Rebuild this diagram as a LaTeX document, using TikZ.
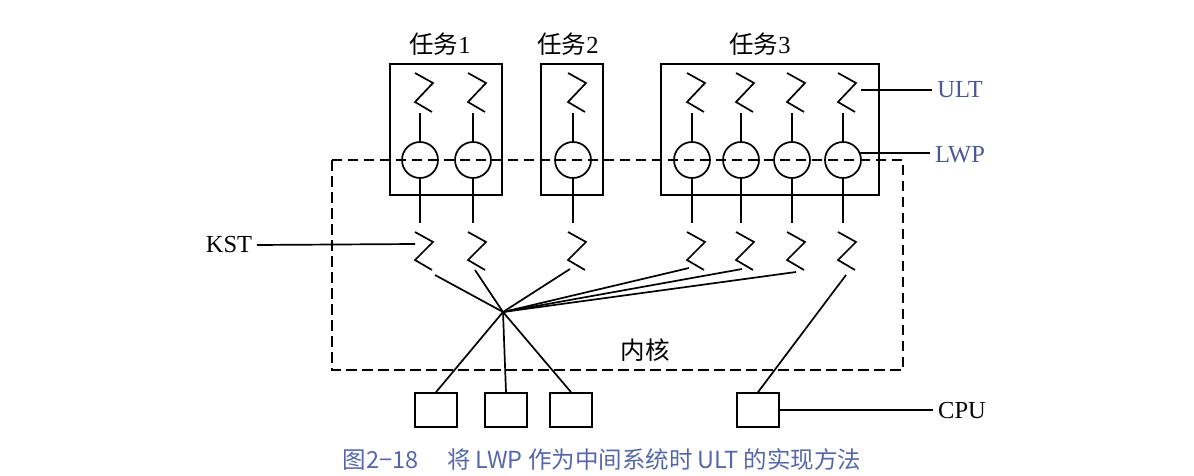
\documentclass[tikz,border=0pt]{standalone}
\usepackage{fontspec}
\setmainfont{Liberation Serif}
\newfontfamily\cjk{Noto Sans CJK SC}
\usepackage{tikz}

\definecolor{labelblue}{HTML}{4A5896}
\definecolor{captionblue}{HTML}{5567A8}

\begin{document}
\begin{tikzpicture}[x=1pt, y=-1pt, line width=1.7pt,
    lwp/.style={circle, draw, minimum size=36pt, inner sep=0pt},
    taskbox/.style={rectangle, draw, inner sep=0pt},
    cpubox/.style={rectangle, draw, minimum width=42pt, minimum height=34pt, inner sep=0pt},
    tag/.style={font=\fontsize{24.5}{28}\selectfont, inner sep=4pt}]
    \useasboundingbox (0,0) rectangle (1194,476);

    % Tasks
    \node[taskbox, minimum width=112pt, minimum height=131pt] (t1) at (446,129.5) {};
    \node[taskbox, minimum width=62pt, minimum height=131pt] (t2) at (572,129.5) {};
    \node[taskbox, minimum width=218pt, minimum height=131pt] (t3) at (770,129.5) {};
    \node[tag] (t1name) at (440,44) {{\cjk 任务}1};
    \node[tag] (t2name) at (568,44) {{\cjk 任务}2};
    \node[tag] (t3name) at (760,44) {{\cjk 任务}3};

    % Threads: ULT, LWP, KST
    \foreach \n/\x/\ex/\ey in {1/420/435/275, 2/473/475/270, 3/573/570/269,
                               4/692/689/268, 5/741/742/269, 6/792/796/272, 7/843/846/275} {
      \coordinate (u\n) at (\x-5,73);
      \coordinate (k\n) at (\x-5,232);
      \coordinate (e\n) at (\ex,\ey);
      \node[lwp] (l\n) at (\x,160) {};
      \draw (u\n) -- ++(18,10) -- ++(-18,19) -- ++(17,10);
      \draw (\x,113) -- (l\n.north);
      \draw (l\n.south) -- (\x,223);
      \draw (k\n) -- ++(18,10) -- ++(-18,18) -- ++(17,10);
    }

    % CPUs
    \node[cpubox] (c1) at (436,410) {};
    \node[cpubox] (c2) at (506,410) {};
    \node[cpubox] (c3) at (571,410) {};
    \node[cpubox] (c4) at (758,410) {};

    % Kernel mapping
    \coordinate (hub) at (503,312);
    \foreach \n in {1,...,6}
      \draw (e\n) -- (hub);
    \draw (hub) -- (c1.north);
    \draw (hub) -- (c2.north);
    \draw (hub) -- (c3.north);
    \draw (e7) -- (c4.north);

    % Kernel
    \draw[dash pattern=on 10.5pt off 5.5pt, line width=2.6pt] (332,160) rectangle (903,370);
    \node[tag] (kernel) at (645,350) {\cjk 内核};

    % Labels
    \node[tag, text=labelblue] (ult) at (960,90) {ULT};
    \node[tag, text=labelblue] (lwpname) at (960,155) {LWP};
    \node[tag] (kst) at (229,245) {KST};
    \node[tag] (cpu) at (962,411) {CPU};
    \coordinate (ulttip) at (861,90);
    \coordinate (ksttip) at (415,244);
    \draw (ulttip) -- (ult.west);
    \draw (l7.22) -- (l7.22 -| lwpname.west);
    \draw (kst.east) -- (ksttip);
    \draw (c4.east) -- (c4.east -| cpu.west);

    % Caption
    \node[font=\cjk\fontsize{23.5}{27}\selectfont, text=captionblue] (caption) at (602,460)
      {图2−18\quad\ 将 LWP 作为中间系统时 ULT 的实现方法};
\end{tikzpicture}
\end{document}
